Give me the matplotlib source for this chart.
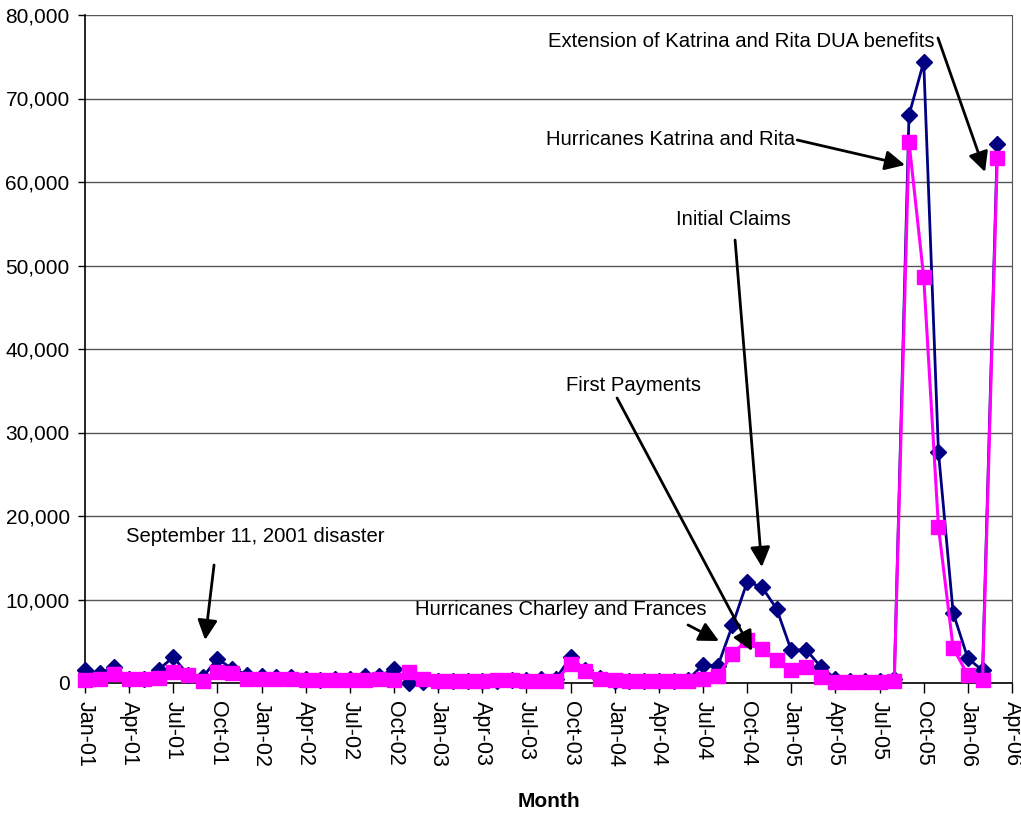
import matplotlib
matplotlib.use('Agg')
import matplotlib.pyplot as plt
from matplotlib.ticker import FuncFormatter, FixedLocator

plt.rcParams['font.family'] = ['Liberation Sans', 'DejaVu Sans']

##############################
# dane: Jan-01 .. Mar-06, miesiecznie
months = ['Jan', 'Feb', 'Mar', 'Apr', 'May', 'Jun', 'Jul', 'Aug', 'Sep', 'Oct', 'Nov', 'Dec']
years = ['01', '02', '03', '04', '05', '06']
month_labels = [m + '-' + y for y in years for m in months][:64]   # do Apr-06 (os)

initial_claims = [1500, 1200, 1900, 500, 500, 1600, 3100, 1000, 700, 2900, 1700, 1000,
                  800, 700, 700, 450, 400, 450, 500, 800, 800, 1700, 50, 150,
                  200, 200, 200, 200, 200, 300, 300, 450, 500, 3100, 1500, 600,
                  200, 200, 200, 200, 200, 400, 2200, 2000, 6900, 12100, 11500, 8900,
                  3900, 4000, 1950, 500, 200, 200, 200, 500, 68000, 74400, 27700, 8400,
                  2950, 1500, 64500]
first_payments = [300, 500, 1100, 500, 450, 600, 1300, 1000, 250, 1300, 1200, 500,
                  500, 450, 450, 300, 300, 300, 400, 400, 450, 400, 1300, 500,
                  250, 250, 250, 250, 300, 300, 250, 250, 250, 2300, 1400, 500,
                  300, 250, 250, 250, 250, 250, 500, 800, 3500, 5150, 4100, 2750,
                  1600, 1950, 750, 150, 150, 150, 150, 200, 64800, 48600, 18700, 4200,
                  950, 350, 62900]

x = list(range(len(initial_claims)))

##############################
fig = plt.figure(figsize=(10.21, 8.15), dpi=100)
ax = fig.add_axes([85/1021, 1 - 683/815, (1012 - 85)/1021, (683 - 15)/815])

ax.plot(x, initial_claims, color='#000080', lw=2, marker='D', markersize=8.5,
        mfc='#000080', mec='#000080', clip_on=False, zorder=3)
ax.plot(x, first_payments, color='#FF00FF', lw=2.2, marker='s', markersize=10.5,
        mfc='#FF00FF', mec='#FF00FF', clip_on=False, zorder=4)

ax.set_xlim(0, 63)
ax.set_ylim(0, 80000)
ax.yaxis.set_major_locator(FixedLocator(range(0, 80001, 10000)))
ax.yaxis.set_major_formatter(FuncFormatter(lambda v, p: '{:,.0f}'.format(v)))
ax.set_xticks(range(0, 64, 3))
ax.set_xticklabels(month_labels[::3], rotation=-90, fontsize=15.5)
ax.tick_params(axis='y', labelsize=15, length=5, width=1, direction='out', pad=6)
ax.tick_params(axis='x', length=7, width=1, direction='out', pad=6)

ax.grid(True, axis='y', color='#555555', lw=1)
ax.set_axisbelow(True)
ax.spines['top'].set_visible(False)
ax.spines['right'].set_color('#555555')
ax.spines['left'].set_linewidth(1.2)
ax.spines['bottom'].set_linewidth(1.2)
ax.set_xlabel('Month', fontsize=15, fontweight='bold', labelpad=18)

##############################
# adnotacje
arrow = dict(arrowstyle='-|>', color='black', lw=2, mutation_scale=30, shrinkA=0, shrinkB=0)
notes = [
    ('September 11, 2001 disaster', (11.6, 17500), (8.77, 14130), (8.16, 5150)),
    ('Hurricanes Charley and Frances', (32.35, 8860), (40.98, 6950), (43.09, 5030)),
    ('First Payments', (37.3, 35570), (36.16, 34130), (45.33, 3830)),
    ('Initial Claims', (44.1, 55450), (44.18, 53050), (46.0, 13890)),
    ('Hurricanes Katrina and Rita', (39.8, 65030), (48.4, 65030), (55.73, 62040)),
    ('Extension of Katrina and Rita DUA benefits', (44.6, 76770), (57.97, 77250), (61.17, 61200)),
]
for txt, pos, tail, head in notes:
    ax.text(pos[0], pos[1], txt, fontsize=14.6, ha='center', va='center', zorder=6)
    ax.annotate('', xy=head, xytext=tail, arrowprops=arrow, zorder=6)

fig.savefig('out.png', dpi=100)
